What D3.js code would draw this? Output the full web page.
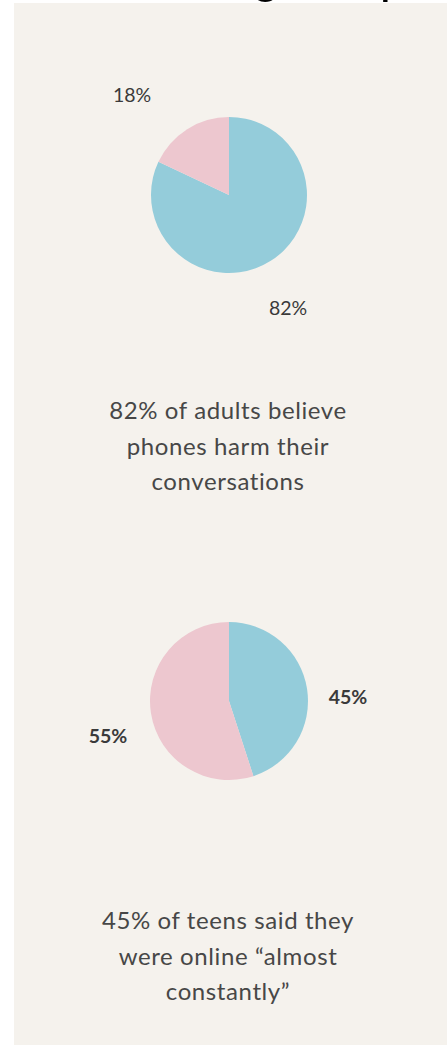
<!DOCTYPE html>
<html>
<head>
<meta charset="utf-8">
<script src="https://cdn.jsdelivr.net/npm/d3@7"></script>
<style>
  html, body { margin: 0; padding: 0; background: #ffffff; }
  svg { display: block; }
</style>
</head>
<body>
<svg id="chart" width="447" height="1046"></svg>
<script>
// ---- data ----
const sliceCategories = ["yes", "no"];
const adultsValues = [82, 18];          // % of adults who believe phones harm conversations
const teensValues = [45, 55];           // % of teens online "almost constantly"
const adultsCaption = ["82% of adults believe", "phones harm their", "conversations"];
const teensCaption = ["45% of teens said they", "were online \u201calmost", "constantly\u201d"];
const titleText = "Putting our phones away";

// ---- layout / style ----
const W = 447, H = 1046;
const colors = { yes: "#94CCDA", no: "#EDC7CF" };
const bg = "#F5F2ED";
const textColor = "#474747";

const svg = d3.select("#chart");

svg.append("rect").attr("x", 14).attr("y", 3).attr("width", W - 14).attr("height", 1042).attr("fill", bg);

// cropped title above panel (only its descenders are visible)
svg.append("text")
  .attr("x", 124).attr("y", -8)
  .attr("font-family", "Liberation Sans, Arial, sans-serif")
  .attr("font-size", 50)
  .attr("fill", "#000")
  .text(titleText);

const charts = [
  { values: adultsValues, cx: 229, cy: 195, r: 78,
    labelPos: [[59, 113], [-97, -100]], labelWeight: 400,
    caption: adultsCaption, captionY: 419 },
  { values: teensValues, cx: 229, cy: 701, r: 79,
    labelPos: [[119, -4], [-121, 35]], labelWeight: 700,
    caption: teensCaption, captionY: 929 }
];

const pie = d3.pie().sort(null).value(d => d.value);
const arc = d3.arc().innerRadius(0);

charts.forEach(c => {
  const data = sliceCategories.map((k, i) => ({ key: k, value: c.values[i] }));
  const arcs = pie(data);
  const g = svg.append("g").attr("transform", `translate(${c.cx},${c.cy})`);
  g.selectAll("path").data(arcs).join("path")
    .attr("d", d => arc.outerRadius(c.r)(d))
    .attr("fill", d => colors[d.data.key]);

  g.selectAll("text.lbl").data(arcs).join("text")
    .attr("class", "lbl")
    .attr("x", (d, i) => c.labelPos[i][0])
    .attr("y", (d, i) => c.labelPos[i][1])
    .attr("dy", "0.35em")
    .attr("text-anchor", "middle")
    .attr("font-family", "Lato, sans-serif")
    .attr("font-weight", c.labelWeight)
    .attr("font-size", 19.5)
    .attr("fill", "#3a3a3a")
    .text(d => d3.format("d")(d.data.value) + "%");

  svg.append("g").selectAll("text").data(c.caption).join("text")
    .attr("x", 228)
    .attr("y", (d, i) => c.captionY + i * 35.5)
    .attr("text-anchor", "middle")
    .attr("font-family", "Lato, sans-serif")
    .attr("font-size", 24)
    .attr("letter-spacing", 0.6)
    .attr("fill", textColor)
    .text(d => d);
});
</script>
</body>
</html>
